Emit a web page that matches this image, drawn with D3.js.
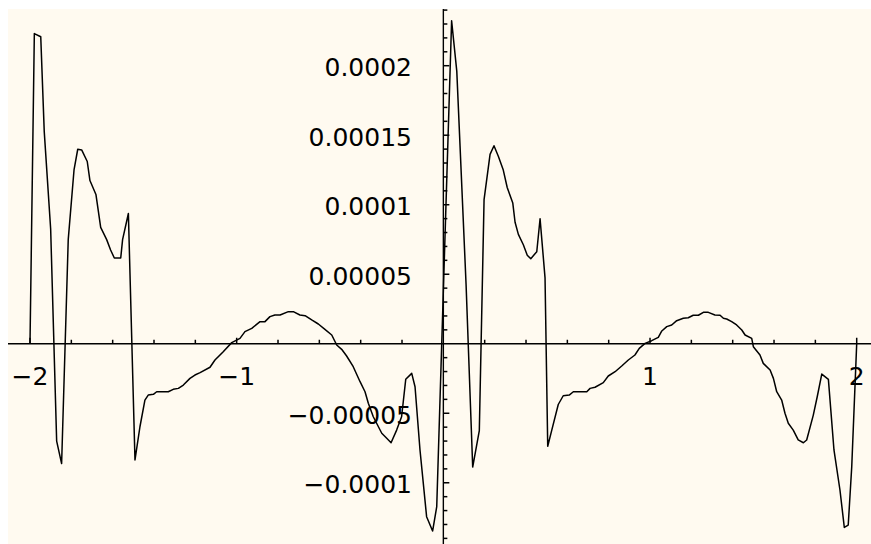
<!DOCTYPE html>
<html>
<head>
<meta charset="utf-8">
<script src="https://cdn.jsdelivr.net/npm/d3@7"></script>
<style>
  html, body { margin: 0; padding: 0; background: #ffffff; }
  svg { display: block; }
  .lbl { font-family: "DejaVu Sans", sans-serif; font-size: 25px; fill: #000; }
</style>
</head>
<body>
<svg id="chart" width="871" height="544"></svg>
<script>
const svg = d3.select("#chart");
const width = 871;
const height = 544;

// curve samples (x, y)
const xVals = [
  -2.000, -1.979, -1.948, -1.931, -1.900, -1.871, -1.847, -1.815, -1.787, -1.769,
  -1.750, -1.723, -1.710, -1.681, -1.658, -1.629, -1.610, -1.592, -1.561, -1.552,
  -1.524, -1.492, -1.468, -1.444, -1.428, -1.403, -1.387, -1.331, -1.307, -1.282,
  -1.258, -1.226, -1.202, -1.177, -1.129, -1.105, -1.065, -1.024, -0.984, -0.960,
  -0.927, -0.887, -0.863, -0.839, -0.815, -0.790, -0.750, -0.726, -0.694, -0.669,
  -0.637, -0.605, -0.573, -0.540, -0.516, -0.492, -0.468, -0.436, -0.403, -0.379,
  -0.363, -0.339, -0.298, -0.274, -0.253, -0.226, -0.202, -0.182, -0.153, -0.137,
  -0.113, -0.081, -0.052, -0.032,
  0.040, 0.065, 0.110, 0.142, 0.174, 0.197, 0.226, 0.245, 0.266, 0.290,
  0.309, 0.336, 0.347, 0.363, 0.387, 0.406, 0.423, 0.452, 0.468, 0.492,
  0.505, 0.524, 0.556, 0.580, 0.609, 0.629, 0.694, 0.710, 0.734, 0.774,
  0.798, 0.831, 0.863, 0.895, 0.927, 0.948, 0.976, 1.008, 1.040, 1.057,
  1.081, 1.105, 1.129, 1.161, 1.185, 1.209, 1.234, 1.258, 1.282, 1.314,
  1.339, 1.355, 1.371, 1.395, 1.419, 1.444, 1.460, 1.492, 1.500, 1.532,
  1.548, 1.581, 1.597, 1.613, 1.637, 1.653, 1.669, 1.693, 1.717, 1.742,
  1.758, 1.790, 1.809, 1.831, 1.863, 1.890, 1.919, 1.940, 1.959, 1.976,
  2.000
];
const yVals = [
  0, 22.31e-5, 22.08e-5, 15.24e-5, 8.24e-5, -7.00e-5, -8.62e-5, 7.49e-5, 12.50e-5, 13.99e-5,
  13.94e-5, 13.11e-5, 11.74e-5, 10.74e-5, 8.37e-5, 7.49e-5, 6.74e-5, 6.17e-5, 6.17e-5, 7.49e-5,
  9.37e-5, -8.36e-5, -5.97e-5, -4.05e-5, -3.69e-5, -3.64e-5, -3.45e-5, -3.45e-5, -3.28e-5, -3.21e-5,
  -2.97e-5, -2.49e-5, -2.25e-5, -2.08e-5, -1.69e-5, -1.17e-5, -0.57e-5, 0.08e-5, 0.39e-5, 0.87e-5,
  1.11e-5, 1.59e-5, 1.59e-5, 1.95e-5, 2.07e-5, 2.07e-5, 2.31e-5, 2.31e-5, 2.07e-5, 2.02e-5,
  1.71e-5, 1.42e-5, 1.04e-5, 0.63e-5, -0.09e-5, -0.40e-5, -0.88e-5, -1.65e-5, -2.73e-5, -3.45e-5,
  -4.28e-5, -5.25e-5, -6.44e-5, -6.80e-5, -7.12e-5, -6.21e-5, -5.25e-5, -2.56e-5, -2.13e-5, -3.09e-5,
  -7.64e-5, -12.44e-5, -13.47e-5, -11.72e-5,
  23.23e-5, 19.61e-5, 4.25e-5, -8.87e-5, -6.25e-5, 10.36e-5, 13.62e-5, 14.24e-5, 13.49e-5, 12.49e-5,
  11.24e-5, 10.12e-5, 8.74e-5, 7.87e-5, 7.12e-5, 6.37e-5, 6.12e-5, 6.62e-5, 8.99e-5, 4.74e-5,
  -7.37e-5, -6.25e-5, -4.37e-5, -3.74e-5, -3.69e-5, -3.45e-5, -3.45e-5, -3.21e-5, -3.13e-5, -2.80e-5,
  -2.32e-5, -2.01e-5, -1.60e-5, -1.17e-5, -0.81e-5, -0.33e-5, 0.03e-5, 0.22e-5, 0.46e-5, 0.92e-5,
  1.23e-5, 1.35e-5, 1.66e-5, 1.83e-5, 1.87e-5, 2.05e-5, 2.05e-5, 2.26e-5, 2.26e-5, 2.07e-5,
  2.05e-5, 1.83e-5, 1.78e-5, 1.59e-5, 1.35e-5, 0.99e-5, 0.63e-5, 0.39e-5, -0.21e-5, -0.81e-5,
  -1.41e-5, -1.89e-5, -2.49e-5, -3.45e-5, -4.05e-5, -5.00e-5, -5.72e-5, -6.21e-5, -6.92e-5, -7.12e-5,
  -6.92e-5, -5.13e-5, -3.81e-5, -2.18e-5, -2.56e-5, -7.64e-5, -10.52e-5, -13.21e-5, -13.04e-5, -8.85e-5,
  0
];

// tick labels
const xLabels = [-2, -1, 1, 2];
const yLabels = [0.0002, 0.00015, 0.0001, 0.00005, -0.00005, -0.0001];
const yLabelText = ["0.0002", "0.00015", "0.0001", "0.00005", "\u22120.00005", "\u22120.0001"];

const x = d3.scaleLinear().domain([-2, 2]).range([30, 856.7]);
const y = d3.scaleLinear().domain([0, 0.0002]).range([343.75, 65.7]);

// cream plot background
svg.append("rect")
  .attr("x", 8).attr("y", 9)
  .attr("width", width - 8).attr("height", height - 9)
  .attr("fill", "#fffaf0");

const x0 = x(0), y0 = y(0);

// axes
svg.append("line")
  .attr("x1", 8).attr("x2", width)
  .attr("y1", y0).attr("y2", y0)
  .attr("stroke", "#000").attr("stroke-width", 1.4);
svg.append("line")
  .attr("x1", x0).attr("x2", x0)
  .attr("y1", 9).attr("y2", height)
  .attr("stroke", "#000").attr("stroke-width", 1.4);

// x ticks every 0.2, pointing up
const xTicks = d3.range(-10, 11).map(i => i / 5).filter(v => v !== 0);
svg.append("g").selectAll("line")
  .data(xTicks)
  .join("line")
  .attr("x1", d => x(d)).attr("x2", d => x(d))
  .attr("y1", y0)
  .attr("y2", d => y0 - (Number.isInteger(d) ? 6 : 4))
  .attr("stroke", "#000").attr("stroke-width", 1.5);

// y ticks every 0.00001, pointing right
const yTicks = d3.range(-14, 25).filter(i => i !== 0).map(i => i * 1e-5);
svg.append("g").selectAll("line")
  .data(yTicks)
  .join("line")
  .attr("x1", x0)
  .attr("x2", (d, i) => x0 + ((Math.round(d * 1e5) % 5 === 0) ? 6 : 4))
  .attr("y1", d => y(d)).attr("y2", d => y(d))
  .attr("stroke", "#000").attr("stroke-width", 1.5);

// labels
svg.append("g").selectAll("text")
  .data(xLabels)
  .join("text")
  .attr("class", "lbl")
  .attr("x", d => x(d))
  .attr("y", y0 + 41)
  .attr("text-anchor", "middle")
  .text(d => d < 0 ? "\u2212" + Math.abs(d) : String(d));

svg.append("g").selectAll("text")
  .data(yLabels)
  .join("text")
  .attr("class", "lbl")
  .attr("x", 412)
  .attr("y", d => y(d) + 10.5)
  .attr("text-anchor", "end")
  .text((d, i) => yLabelText[i]);

// the curve
const pts = xVals.map((v, i) => [v, yVals[i]]);
const line = d3.line().x(d => x(d[0])).y(d => y(d[1]));
svg.append("path")
  .datum(pts)
  .attr("d", line)
  .attr("fill", "none")
  .attr("stroke", "#000")
  .attr("stroke-width", 1.5)
  .attr("stroke-linejoin", "round");
</script>
</body>
</html>
